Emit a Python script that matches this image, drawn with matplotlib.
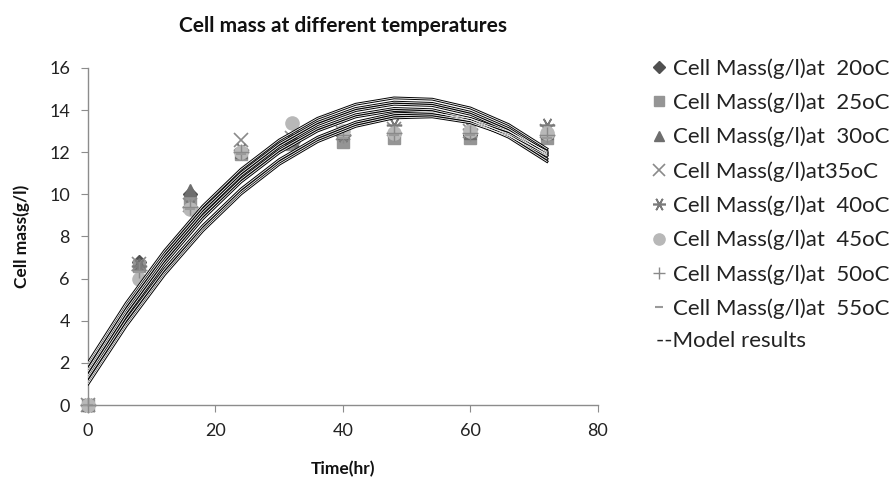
import matplotlib
matplotlib.use("Agg")
import matplotlib.pyplot as plt

plt.rcParams['font.family'] = ['Lato', 'DejaVu Sans']

# ---- data -------------------------------------------------------------
time_hr = [0, 8, 16, 24, 32, 40, 48, 60, 72]
series_labels = [
    "Cell Mass(g/l)at  20oC",
    "Cell Mass(g/l)at  25oC",
    "Cell Mass(g/l)at  30oC",
    "Cell Mass(g/l)at35oC",
    "Cell Mass(g/l)at  40oC",
    "Cell Mass(g/l)at  45oC",
    "Cell Mass(g/l)at  50oC",
    "Cell Mass(g/l)at  55oC",
]
mass_20 = [0, 6.8, 10.0, 12.0, 12.5, 12.8, 12.9, 12.8, 12.8]
mass_25 = [0, 6.6, 9.6, 11.9, 12.4, 12.5, 12.7, 12.7, 12.7]
mass_30 = [0, 6.7, 10.2, 12.0, 12.6, 12.9, 13.0, 12.9, 12.9]
mass_35 = [0, 6.7, 9.5, 12.6, 12.7, 12.9, 13.1, 13.0, 13.0]
mass_40 = [0, 6.6, 9.4, 12.1, 12.5, 12.8, 13.3, 13.1, 13.3]
mass_45 = [0, 6.0, 9.3, 12.0, 13.4, 13.0, 12.9, 13.0, 12.9]
mass_50 = [0, 6.4, 9.4, 12.0, 12.5, 12.8, 12.9, 12.9, 12.8]
mass_55 = [0, 6.3, 9.3, 11.9, 12.4, 12.7, 12.8, 12.8, 12.7]

model_time = [0, 6, 12, 18, 24, 30, 36, 42, 48, 54, 60, 66, 72]
model_1 = [2.00, 4.84, 7.32, 9.44, 11.19, 12.58, 13.61, 14.28, 14.58, 14.52, 14.10, 13.31, 12.16]
model_2 = [1.90, 4.72, 7.18, 9.28, 11.02, 12.40, 13.42, 14.08, 14.38, 14.32, 13.90, 13.12, 11.98]
model_3 = [1.70, 4.54, 7.02, 9.14, 10.89, 12.28, 13.31, 13.98, 14.28, 14.22, 13.80, 13.01, 11.86]
model_4 = [1.60, 4.42, 6.88, 8.98, 10.72, 12.10, 13.12, 13.78, 14.08, 14.02, 13.60, 12.82, 11.68]
model_5 = [1.40, 4.24, 6.72, 8.84, 10.59, 11.98, 13.01, 13.68, 13.98, 13.92, 13.50, 12.71, 11.56]
model_6 = [1.30, 4.04, 6.45, 8.51, 10.25, 11.65, 12.71, 13.43, 13.83, 13.88, 13.60, 12.99, 12.04]
model_7 = [1.10, 3.86, 6.29, 8.37, 10.12, 11.53, 12.60, 13.33, 13.73, 13.78, 13.50, 12.88, 11.92]
model_8 = [1.00, 3.76, 6.19, 8.27, 10.02, 11.43, 12.50, 13.23, 13.63, 13.68, 13.40, 12.78, 11.82]

x_ticks = [0, 20, 40, 60, 80]
y_ticks = [0, 2, 4, 6, 8, 10, 12, 14, 16]

# ---- styles -----------------------------------------------------------
series = [mass_20, mass_25, mass_30, mass_35, mass_40, mass_45, mass_50, mass_55]
models = [model_1, model_2, model_3, model_4, model_5, model_6, model_7, model_8]
styles = [
    dict(marker='D', color='#505050', ms=7.5, mec='#505050'),
    dict(marker='s', color='#959595', ms=9, mec='#959595'),
    dict(marker='^', color='#6e6e6e', ms=9, mec='#6e6e6e'),
    dict(marker='x', color='#8a8a8a', ms=10, mew=1.2),
    dict(marker=(6, 2, 90), color='#7a7a7a', ms=11, mew=1.2),
    dict(marker='o', color='#b8b8b8', ms=9.5, mec='#b8b8b8'),
    dict(marker='+', color='#8a8a8a', ms=11, mew=1.0),
    dict(marker='_', color='#9a9a9a', ms=7, mew=1.5),
]

fig = plt.figure(figsize=(8.95, 4.86), dpi=100)
ax = fig.add_axes([88 / 895, 1 - 405 / 486, (598 - 88) / 895, (405 - 68) / 486])

handles = []
for vals, st, lab in zip(series, styles, series_labels):
    h, = ax.plot(time_hr, vals, linestyle='none', label=lab, zorder=2, clip_on=False, **st)
    handles.append(h)

for m in models:
    ax.plot(model_time, m, color='black', lw=2.0, zorder=3, solid_joinstyle='round')
    ax.plot(model_time, m, color='white', lw=0.6, zorder=4)

ax.set_xlim(0, 80)
ax.set_ylim(0, 16)
ax.set_xticks(x_ticks)
ax.set_yticks(y_ticks)
for s in ['top', 'right']:
    ax.spines[s].set_visible(False)
for s in ['left', 'bottom']:
    ax.spines[s].set_color('#8c8c8c')
    ax.spines[s].set_linewidth(1.0)
ax.tick_params(axis='both', direction='out', length=5, color='#8c8c8c',
               labelsize=13, labelcolor='#222222', pad=8)

ax.set_title("Cell mass at different temperatures", fontsize=15, fontweight='bold',
             pad=26, color='#111111')
ax.set_xlabel("Time(hr)", fontsize=12.5, fontweight='bold', labelpad=16, color='#111111')
ax.set_ylabel("Cell mass(g/l)", fontsize=12.5, fontweight='bold', labelpad=14, color='#111111')

# legend
leg = fig.legend(handles, series_labels,
                 loc='upper left', bbox_to_anchor=(652 / 895, 1 - 58 / 486),
                 frameon=False, fontsize=16, handlelength=0.6, handletextpad=0.35,
                 labelspacing=0.62, borderaxespad=0, borderpad=0, markerscale=0.85)
for t in leg.get_texts():
    t.set_color('#222222')
fig.text(656 / 895, 1 - 341 / 486, "--Model results", fontsize=16, color='#222222',
         ha='left', va='center')

fig.savefig("out.png", dpi=100, facecolor='white')
